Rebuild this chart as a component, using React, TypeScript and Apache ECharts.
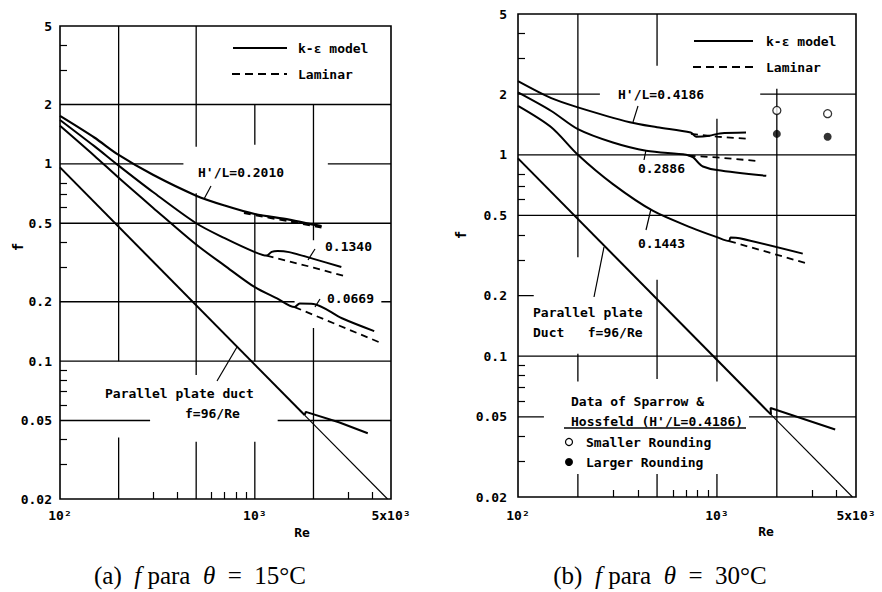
import React, { useEffect, useRef } from "react";
import * as echarts from "echarts";

// ---------- axes ----------
const RE_TICKS = [100, 1000, 5000];
const RE_TICK_LABELS = ["10²", "10³", "5x10³"];
const RE_MINOR = [300, 400, 600, 700, 800, 900, 3000, 4000];
const F_TICKS = [0.02, 0.05, 0.1, 0.2, 0.5, 1, 2, 5];
const F_TICK_LABELS = ["0.02", "0.05", "0.1", "0.2", "0.5", "1", "2", "5"];
const F_MINOR = [0.03, 0.04, 0.06, 0.07, 0.08, 0.09, 0.3, 0.4, 0.6, 0.7, 0.8, 3, 4];

// ---------- (a) theta = 15 C ----------
const A_KE_2010 = [[100, 1.75], [150, 1.36], [200, 1.11], [300, 0.88], [500, 0.69], [700, 0.615], [1000, 0.557], [1500, 0.522], [2000, 0.492], [2200, 0.484]];
const A_LAM_2010 = [[880, 0.565], [1500, 0.513], [2200, 0.478]];
const A_KE_1340 = [[100, 1.67], [150, 1.23], [200, 0.98], [300, 0.72], [500, 0.5], [700, 0.42], [1000, 0.357], [1150, 0.343], [1220, 0.358], [1310, 0.362], [1500, 0.357], [2000, 0.33], [2780, 0.3]];
const A_LAM_1340 = [[1150, 0.343], [2000, 0.298], [3000, 0.267]];
const A_KE_0669 = [[100, 1.56], [150, 1.1], [200, 0.85], [300, 0.6], [500, 0.39], [700, 0.305], [1000, 0.237], [1300, 0.208], [1600, 0.188], [1700, 0.196], [2000, 0.195], [2800, 0.165], [4100, 0.142]];
const A_LAM_0669 = [[1600, 0.188], [4500, 0.123]];
const A_DUCT = [[100, 0.96], [1800, 0.0533]];
const A_DUCT_EXT = [[1800, 0.0533], [4800, 0.02]];
const A_DUCT_KE = [[1800, 0.0533], [1826, 0.0553], [2700, 0.049], [3800, 0.0431]];

// ---------- (b) theta = 30 C ----------
const B_KE_4186 = [[100, 2.32], [147, 1.91], [200, 1.72], [365, 1.45], [500, 1.37], [738, 1.29], [786, 1.23], [916, 1.243], [1034, 1.277], [1400, 1.29]];
const B_LAM_4186 = [[740, 1.27], [1000, 1.23], [1430, 1.2]];
const B_KE_2886 = [[100, 2.04], [147, 1.65], [200, 1.34], [300, 1.15], [441, 1.047], [700, 1.0], [760, 0.97], [800, 0.92], [850, 0.875], [1000, 0.84], [1770, 0.786]];
const B_LAM_2886 = [[720, 0.99], [1000, 0.97], [1630, 0.93]];
const B_KE_1443 = [[100, 1.75], [147, 1.37], [200, 1.0], [300, 0.715], [478, 0.526], [748, 0.434], [1000, 0.39], [1150, 0.373], [1170, 0.388], [1300, 0.385], [2700, 0.323]];
const B_LAM_1443 = [[1150, 0.373], [2900, 0.287]];
const B_DUCT = [[100, 0.96], [1870, 0.0513]];
const B_DUCT_EXT = [[1870, 0.0513], [4800, 0.02]];
const B_DUCT_KE = [[1870, 0.0513], [1860, 0.0553], [3930, 0.0433]];
const B_SMALLER_ROUNDING = [[2000, 1.66], [3600, 1.6]];
const B_LARGER_ROUNDING = [[2000, 1.27], [3600, 1.23]];

// ---------- partial grid lines (value, from, to) ----------
const A_HGRID = [[2, 100, 5000], [1, 100, 430], [1, 2370, 5000], [0.5, 100, 5000], [0.2, 100, 1600], [0.2, 4460, 5000], [0.1, 100, 5000], [0.05, 100, 290], [0.05, 1310, 5000]];
const A_VGRID = [[200, 0.1, 5], [200, 0.02, 0.041], [500, 1.22, 5], [500, 0.085, 0.71], [500, 0.02, 0.039], [1000, 1.25, 2], [1000, 0.1, 0.56], [1000, 0.02, 0.039], [2000, 0.41, 2], [2000, 0.02, 0.147]];
const B_HGRID = [[2, 100, 258], [2, 1650, 5000], [1, 100, 5000], [0.5, 100, 5000], [0.2, 100, 120], [0.1, 100, 5000], [0.05, 100, 135], [0.05, 1450, 5000]];
const B_VGRID = [[200, 0.31, 5], [200, 0.075, 0.103], [200, 0.02, 0.026], [500, 2.77, 5], [500, 0.077, 0.24], [500, 0.02, 0.026], [1000, 0.075, 1.51], [1000, 0.02, 0.026], [2000, 0.02, 2.13]];

const INK = "#000";
const MONO = '"DejaVu Sans Mono", "Liberation Mono", monospace';
const SERIF = '"Liberation Serif", "DejaVu Serif", serif';

const nearestLabel = (vals: number[], labels: string[]) => (v: number) => {
  let best = 0;
  let bd = Infinity;
  vals.forEach((t, i) => {
    const d = Math.abs(Math.log(v / t));
    if (d < bd) { bd = d; best = i; }
  });
  return labels[best];
};

function curve(data: number[][], gi: number, width: number, dashed = false, smooth: number | boolean = 0.3) {
  return {
    type: "line", xAxisIndex: gi, yAxisIndex: gi, data, symbol: "none", showSymbol: false, silent: true,
    smooth,
    lineStyle: { color: INK, width, type: dashed ? [7, 5] : "solid", cap: "butt" }, z: 5,
  };
}

function gridSeries(h: number[][], v: number[][], gi: number) {
  const out: any[] = [];
  h.forEach(([f, a, b]) => out.push({ type: "line", xAxisIndex: gi, yAxisIndex: gi, data: [[a, f], [b, f]], symbol: "none", silent: true, lineStyle: { color: INK, width: 1.3 }, z: 1 }));
  v.forEach(([re, a, b]) => out.push({ type: "line", xAxisIndex: gi, yAxisIndex: gi, data: [[re, a], [re, b]], symbol: "none", silent: true, lineStyle: { color: INK, width: 1.3 }, z: 1 }));
  return out;
}

function xAxis(gi: number, margin: number) {
  return {
    type: "log", logBase: 10, min: 100, max: 5000, gridIndex: gi,
    axisLine: { show: false }, splitLine: { show: false },
    axisTick: { show: true, inside: true, length: 7, customValues: RE_MINOR, lineStyle: { color: INK, width: 1.2 } },
    axisLabel: { customValues: RE_TICKS, formatter: nearestLabel(RE_TICKS, RE_TICK_LABELS), fontFamily: MONO, fontSize: 13, fontWeight: "bold", color: INK, margin },
  };
}
function yAxis(gi: number, margin: number) {
  return {
    type: "log", logBase: 10, min: 0.02, max: 5, gridIndex: gi,
    axisLine: { show: false }, splitLine: { show: false },
    axisTick: { show: true, inside: true, length: 7, customValues: F_MINOR, lineStyle: { color: INK, width: 1.2 } },
    axisLabel: { customValues: F_TICKS, formatter: nearestLabel(F_TICKS, F_TICK_LABELS), fontFamily: MONO, fontSize: 13, fontWeight: "bold", color: INK, margin },
  };
}

const txt = (text: string, x: number, y: number, align = "left", size = 13) => ({
  type: "text", x, y, silent: true,
  style: { text, font: `bold ${size}px ${MONO}`, fill: INK, align, verticalAlign: "middle" },
});
const seg = (x1: number, y1: number, x2: number, y2: number, w = 1.2, dash?: number[]) => ({
  type: "line", silent: true, shape: { x1, y1, x2, y2 }, style: { stroke: INK, lineWidth: w, lineDash: dash },
});
const EN = "\u2002";
const caption = (tag: string, temp: string, x: number, y: number) => ({
  type: "text", x, y, silent: true,
  style: {
    text: `{n|(${tag})${EN}}{i|f}{n| para${EN}}{i|θ}{n|${EN}=${EN}${temp}°C}`,
    align: "center", verticalAlign: "middle",
    rich: {
      n: { fontFamily: SERIF, fontSize: 25, fill: INK },
      i: { fontFamily: SERIF, fontSize: 25, fontStyle: "italic", fill: INK },
    },
  },
});

export default function App() {
  const ref = useRef<HTMLDivElement>(null);
  useEffect(() => {
    document.body.style.margin = "0";
    const chart = echarts.init(ref.current!, null, { renderer: "svg" });
    const option: any = {
      animation: false,
      backgroundColor: "#fff",
      grid: [
        { left: 60, top: 26, width: 331, height: 473, show: true, borderColor: INK, borderWidth: 1.6, backgroundColor: "transparent" },
        { left: 518, top: 14, width: 338, height: 483, show: true, borderColor: INK, borderWidth: 1.6, backgroundColor: "transparent" },
      ],
      xAxis: [xAxis(0, 10), xAxis(1, 12)],
      yAxis: [yAxis(0, 8), yAxis(1, 11)],
      series: [
        ...gridSeries(A_HGRID, A_VGRID, 0),
        ...gridSeries(B_HGRID, B_VGRID, 1),
        curve(A_KE_2010, 0, 2.2),
        curve(A_LAM_2010, 0, 2.6, true),
        curve(A_KE_1340, 0, 2.0),
        curve(A_LAM_1340, 0, 1.8, true, false),
        curve(A_KE_0669, 0, 2.0),
        curve(A_LAM_0669, 0, 1.8, true, false),
        curve(A_DUCT, 0, 2.0, false, false),
        curve(A_DUCT_EXT, 0, 1.1, false, false),
        curve(A_DUCT_KE, 0, 2.0, false, false),
        curve(B_KE_4186, 1, 2.0),
        curve(B_LAM_4186, 1, 1.8, true, false),
        curve(B_KE_2886, 1, 2.0),
        curve(B_LAM_2886, 1, 1.8, true, false),
        curve(B_KE_1443, 1, 2.0),
        curve(B_LAM_1443, 1, 1.8, true, false),
        curve(B_DUCT, 1, 2.0, false, false),
        curve(B_DUCT_EXT, 1, 1.1, false, false),
        curve(B_DUCT_KE, 1, 2.0, false, false),
        {
          type: "scatter", xAxisIndex: 1, yAxisIndex: 1, data: B_SMALLER_ROUNDING, symbol: "circle", symbolSize: 8, silent: true,
          itemStyle: { color: "#fff", borderColor: INK, borderWidth: 1.3 }, z: 6,
        },
        {
          type: "scatter", xAxisIndex: 1, yAxisIndex: 1, data: B_LARGER_ROUNDING, symbol: "circle", symbolSize: 8, silent: true,
          itemStyle: { color: INK }, z: 6,
        },
      ],
      graphic: [
        // left panel annotations
        seg(233, 48, 287, 48, 2.2), txt("k-ε model", 298, 48),
        seg(232, 74, 287, 74, 2, [8, 5]), txt("Laminar", 298, 74),
        txt("H'/L=0.2010", 198, 172), seg(204, 199, 211, 186),
        txt("0.1340", 325, 246), seg(308, 260, 315, 249),
        txt("0.0669", 327, 298), seg(315, 307, 320, 299),
        txt("Parallel plate duct", 105, 393), txt("f=96/Re", 185, 413), seg(217, 381, 237, 347),
        { type: "text", x: 18, y: 247, rotation: Math.PI / 2, silent: true, style: { text: "f", font: `bold 14px ${MONO}`, fill: INK, align: "center", verticalAlign: "middle" } },
        txt("Re", 302, 532, "center"),
        // right panel annotations
        seg(694, 41, 753, 41, 2), txt("k-ε model", 766, 41),
        seg(693, 67, 753, 67, 2, [8, 5]), txt("Laminar", 766, 67),
        txt("H'/L=0.4186", 618, 94), seg(633, 122, 638, 106),
        txt("0.2886", 638, 168), seg(646, 150, 644, 160),
        txt("0.1443", 638, 243), seg(651, 209, 646, 230),
        txt("Parallel plate", 533, 312), txt("Duct   f=96/Re", 533, 332), seg(604, 247, 594, 297),
        txt("Data of Sparrow &", 571, 401), txt("Hossfeld (H'/L=0.4186)", 571, 421), seg(564, 428, 746, 428, 1.4),
        { type: "circle", silent: true, shape: { cx: 569, cy: 442, r: 3.5 }, style: { fill: "#fff", stroke: INK, lineWidth: 1.2 } },
        txt("Smaller Rounding", 586, 442),
        { type: "circle", silent: true, shape: { cx: 569, cy: 462, r: 4 }, style: { fill: INK } },
        txt("Larger Rounding", 586, 462),
        { type: "text", x: 461, y: 235, rotation: Math.PI / 2, silent: true, style: { text: "f", font: `bold 14px ${MONO}`, fill: INK, align: "center", verticalAlign: "middle" } },
        txt("Re", 766, 531, "center"),
        // captions
        caption("a", "15", 200, 575),
        caption("b", "30", 660, 575),
      ],
    };
    chart.setOption(option);
    return () => chart.dispose();
  }, []);
  return <div ref={ref} style={{ position: "absolute", left: 0, top: 0, width: 882, height: 592 }} />;
}
